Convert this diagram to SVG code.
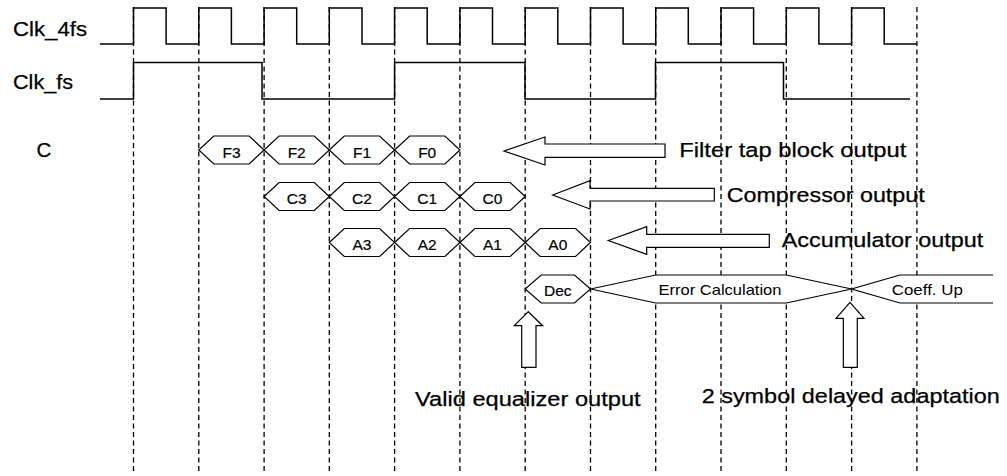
<svg xmlns="http://www.w3.org/2000/svg" width="1007" height="476" viewBox="0 0 1007 476">
<style>
.grid line{stroke:#000;stroke-width:1.3;stroke-dasharray:5 3.5}
.clk{fill:none;stroke:#000;stroke-width:1.5}
.hex{fill:#fff;stroke:#000;stroke-width:1.2}
.arr{fill:#fff;stroke:#000;stroke-width:1.2}
.big{font-family:"Liberation Sans",Arial,sans-serif;font-size:20.5px;fill:#000;stroke:#000;stroke-width:0.25}
.sm{font-family:"Liberation Sans",Arial,sans-serif;font-size:15.5px;fill:#000;text-anchor:middle;stroke:#000;stroke-width:0.2}
.lbl{font-family:"Liberation Sans",Arial,sans-serif;font-size:14.5px;fill:#000;text-anchor:middle}
</style>
<rect width="1007" height="476" fill="#fff"/>
<g id="grid" class="grid">
<line x1="133.5" y1="7" x2="133.5" y2="472"/>
<line x1="198.8" y1="7" x2="198.8" y2="472"/>
<line x1="264.1" y1="7" x2="264.1" y2="472"/>
<line x1="329.3" y1="7" x2="329.3" y2="472"/>
<line x1="394.6" y1="7" x2="394.6" y2="472"/>
<line x1="459.9" y1="7" x2="459.9" y2="472"/>
<line x1="525.2" y1="7" x2="525.2" y2="472"/>
<line x1="590.5" y1="7" x2="590.5" y2="472"/>
<line x1="655.7" y1="7" x2="655.7" y2="472"/>
<line x1="721" y1="7" x2="721" y2="472"/>
<line x1="786.3" y1="7" x2="786.3" y2="472"/>
<line x1="851.6" y1="7" x2="851.6" y2="472"/>
<line x1="916.9" y1="7" x2="916.9" y2="472"/>
</g>
<g id="clk4fs">
<text class="big" x="13" y="36" textLength="74" lengthAdjust="spacingAndGlyphs">Clk_4fs</text>
<path class="clk" d="M100,44 H133.5 V8 H166.1 V44 H198.8 V8 H231.4 V44 H264.1 V8 H296.7 V44 H329.3 V8 H362 V44 H394.6 V8 H427.2 V44 H459.9 V8 H492.5 V44 H525.2 V8 H557.8 V44 H590.5 V8 H623.1 V44 H655.7 V8 H688.3 V44 H721 V8 H753.6 V44 H786.3 V8 H818.9 V44 H851.6 V8 H884.2 V44 H916.9"/>
</g>
<g id="clkfs">
<text class="big" x="13" y="89" textLength="60" lengthAdjust="spacingAndGlyphs">Clk_fs</text>
<path class="clk" d="M100,99 H133.5 V62.5 H262 V99 H394.6 V62.5 H525 V99 H655.5 V62.5 H783.5 V99 H910"/>
</g>
<g id="labelC"><text class="big" x="36.5" y="156.5">C</text></g>
<g id="F3"><polygon class="hex" points="198.8,150 213.8,136 249.1,136 264.1,150 249.1,164 213.8,164"/><text class="sm" x="231.5" y="157.5">F3</text></g>
<g id="F2"><polygon class="hex" points="264.1,150 279.1,136 314.3,136 329.3,150 314.3,164 279.1,164"/><text class="sm" x="296.7" y="157.5">F2</text></g>
<g id="F1"><polygon class="hex" points="329.3,150 344.3,136 379.6,136 394.6,150 379.6,164 344.3,164"/><text class="sm" x="362" y="157.5">F1</text></g>
<g id="F0"><polygon class="hex" points="394.6,150 409.6,136 444.9,136 459.9,150 444.9,164 409.6,164"/><text class="sm" x="427.2" y="157.5">F0</text></g>
<g id="C3"><polygon class="hex" points="264.1,196.5 279.1,182.5 314.3,182.5 329.3,196.5 314.3,210.5 279.1,210.5"/><text class="sm" x="296.7" y="204">C3</text></g>
<g id="C2"><polygon class="hex" points="329.3,196.5 344.3,182.5 379.6,182.5 394.6,196.5 379.6,210.5 344.3,210.5"/><text class="sm" x="362" y="204">C2</text></g>
<g id="C1"><polygon class="hex" points="394.6,196.5 409.6,182.5 444.9,182.5 459.9,196.5 444.9,210.5 409.6,210.5"/><text class="sm" x="427.2" y="204">C1</text></g>
<g id="C0"><polygon class="hex" points="459.9,196.5 474.9,182.5 510.2,182.5 525.2,196.5 510.2,210.5 474.9,210.5"/><text class="sm" x="492.5" y="204">C0</text></g>
<g id="A3"><polygon class="hex" points="329.3,242.5 344.3,228.5 379.6,228.5 394.6,242.5 379.6,256.5 344.3,256.5"/><text class="sm" x="362" y="250">A3</text></g>
<g id="A2"><polygon class="hex" points="394.6,242.5 409.6,228.5 444.9,228.5 459.9,242.5 444.9,256.5 409.6,256.5"/><text class="sm" x="427.2" y="250">A2</text></g>
<g id="A1"><polygon class="hex" points="459.9,242.5 474.9,228.5 510.2,228.5 525.2,242.5 510.2,256.5 474.9,256.5"/><text class="sm" x="492.5" y="250">A1</text></g>
<g id="A0"><polygon class="hex" points="525.2,242.5 540.2,228.5 575.5,228.5 590.5,242.5 575.5,256.5 540.2,256.5"/><text class="sm" x="557.8" y="250">A0</text></g>
<g id="Dec"><polygon class="hex" points="525.2,289 541.2,275 574.5,275 590.5,289 574.5,303 541.2,303"/><text class="sm" x="557.8" y="296">Dec</text></g>
<g id="ErrorCalc"><polygon class="hex" points="590.5,289 655.7,275 786.3,275 851.6,289 786.3,303 655.7,303"/><text class="lbl" x="720" y="295" textLength="123" lengthAdjust="spacingAndGlyphs">Error Calculation</text></g>
<g id="CoeffUp"><path class="hex" d="M993,275 H900 L851.6,289 L900,303 H993"/><text class="lbl" x="927.3" y="295" textLength="71" lengthAdjust="spacingAndGlyphs">Coeff. Up</text></g>
<g id="connectors">
<polygon class="arr" points="504,151 545,137 545,144 665,144 665,157.3 545,157.3 545,165"/>
<polygon class="arr" points="552.7,195 590,180.7 590,188.3 714.3,188.3 714.3,201 590,201 590,209"/>
<polygon class="arr" points="608.3,240.5 646.7,226.7 646.7,234.3 769.3,234.3 769.3,247.3 646.7,247.3 646.7,254.3"/>
<polygon class="arr" points="528.3,311.7 542.7,325.7 536,325.7 536,367.3 521.7,367.3 521.7,325.7 514.3,325.7"/>
<polygon class="arr" points="850,302.3 864,318.3 857.3,318.3 857.3,367.3 843.3,367.3 843.3,318.3 836,318.3"/>
</g>
<g id="labels">
<text class="big" x="679.3" y="157.3" textLength="227" lengthAdjust="spacingAndGlyphs">Filter tap block output</text>
<text class="big" x="726.7" y="201.7" textLength="198" lengthAdjust="spacingAndGlyphs">Compressor output</text>
<text class="big" x="781.7" y="247.3" textLength="201.6" lengthAdjust="spacingAndGlyphs">Accumulator output</text>
<text class="big" x="415" y="405.7" textLength="225.7" lengthAdjust="spacingAndGlyphs">Valid equalizer output</text>
<text class="big" x="701.7" y="403.3" textLength="298" lengthAdjust="spacingAndGlyphs">2 symbol delayed adaptation</text>
</g>
</svg>
